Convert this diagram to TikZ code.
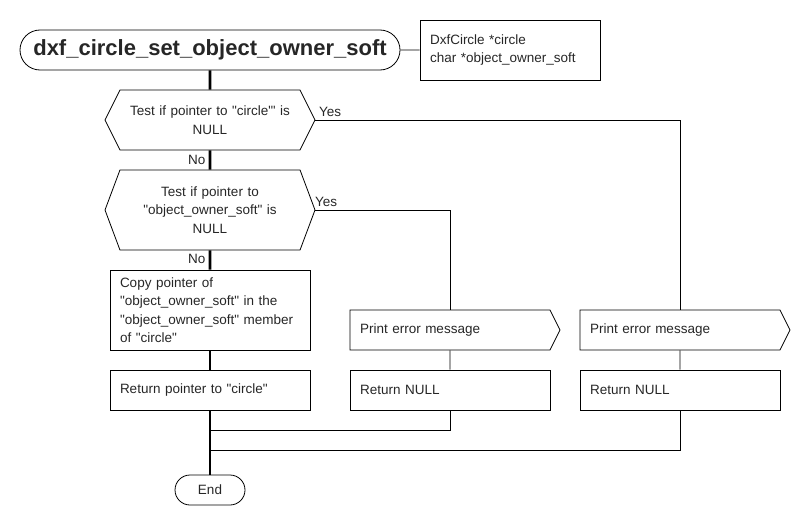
\documentclass[tikz,border=0pt]{standalone}
\usepackage{fontspec}
\setmainfont{Liberation Sans}[Ligatures=TeXOff]
\usetikzlibrary{positioning, shapes.misc, shapes.symbols}

\begin{document}
\begin{tikzpicture}[x=1pt, y=-1pt, line width=0.8pt, text=black!85,
    font=\fontsize{13.5}{18.5}\selectfont,
    term/.style={draw, rounded rectangle, inner sep=0pt},
    decision/.style={draw, signal, signal to=east and west, signal pointer angle=127,
        minimum width=210, minimum height=60, text width=180, align=center, inner sep=0pt},
    process/.style={draw, rectangle, minimum width=200, minimum height=40,
        text width=180, align=left, inner xsep=10, inner ysep=0pt},
    output/.style={draw, signal, signal to=east, signal pointer angle=127,
        minimum width=200, minimum height=40, text width=180, align=left, inner xsep=10, inner ysep=0pt},
    spine/.style={line width=2.6pt}]
    \useasboundingbox (0,0) rectangle (800,530);

    \node[term, minimum width=380, minimum height=40, font=\fontsize{22}{26}\selectfont\bfseries] (title) at (210,50) {dxf\_circle\_set\_object\_owner\_soft};
    \node[process, minimum width=180, minimum height=60, text width=160] (param) at (510,50) {DxfCircle *circle\\char *object\_owner\_soft};
    \node[decision] (test_circle) at (210,120) {Test if pointer to "circle"' is\\NULL};
    \node[decision, minimum height=80, signal pointer angle=139] (test_owner) at (210,210) {Test if pointer to\\"object\_owner\_soft" is\\NULL};
    \node[process, minimum height=80] (copy) at (210,310) {Copy pointer of\\"object\_owner\_soft" in the\\"object\_owner\_soft" member\\of "circle"};
    \node[process] (ret_circle) at (210,390) {Return pointer to "circle"};
    \node[output] (err_owner) at (450,330) {Print error message};
    \node[output] (err_circle) at (680,330) {Print error message};
    \node[process] (ret_null_owner) at (450,390) {Return NULL};
    \node[process] (ret_null_circle) at (680,390) {Return NULL};
    \node[term, minimum width=70, minimum height=30] (end) at (210,490) {End};
    \coordinate (join_owner) at (210,430);
    \coordinate (join_circle) at (210,450);

    \draw (title) -- (param);
    \draw[spine] (title) -- (test_circle);
    \draw[spine] (test_circle) -- node[left, pos=0.5] {No} (test_owner);
    \draw[spine] (test_owner) -- node[left, pos=0.45] {No} (copy);
    \draw[spine] (copy) -- (ret_circle);
    \draw[spine] (ret_circle) -- (end);
    \draw (test_circle.east) -| node[pos=0.02, above] {Yes} (err_circle.north);
    \draw (test_owner.east) -| node[pos=0.04, above] {Yes} (err_owner.north);
    \draw (err_owner) -- (ret_null_owner);
    \draw (err_circle) -- (ret_null_circle);
    \draw (ret_null_owner) |- (join_owner);
    \draw (ret_null_circle) |- (join_circle);

\end{tikzpicture}
\end{document}
